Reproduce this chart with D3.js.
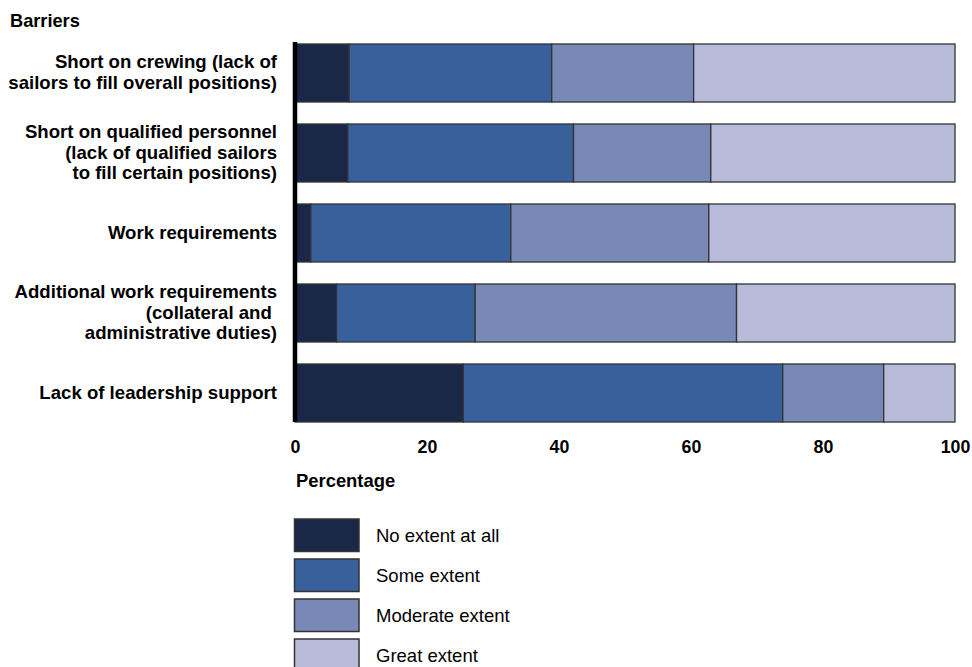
<!DOCTYPE html>
<html>
<head>
<meta charset="utf-8">
<script src="https://cdn.jsdelivr.net/npm/d3@7"></script>
<style>
  html, body { margin: 0; padding: 0; background: #fff; }
  svg { display: block; font-family: "Liberation Sans", Arial, sans-serif; }
</style>
</head>
<body>
<svg id="chart" width="972" height="667"></svg>
<script>
const categories = [
  ["Short on crewing (lack of", "sailors to fill overall positions)"],
  ["Short on qualified personnel", "(lack of qualified sailors", "to fill certain positions)"],
  ["Work requirements"],
  ["Additional work requirements", "(collateral and ", "administrative duties)"],
  ["Lack of leadership support"]
];
const seriesNames = ["No extent at all", "Some extent", "Moderate extent", "Great extent"];
const noExtent = [8.2, 8.0, 2.4, 6.3, 25.5];
const someExtent = [30.7, 34.2, 30.3, 21.0, 48.4];
const moderateExtent = [21.5, 20.8, 30.0, 39.6, 15.3];
const greatExtent = [39.6, 37.0, 37.3, 33.1, 10.8];
const tickValues = [0, 20, 40, 60, 80, 100];
const colors = ["#1a2747", "#38619c", "#7889b8", "#b8bbda"];

const seriesValues = [noExtent, someExtent, moderateExtent, greatExtent];
const rows = categories.map((c, i) => {
  const o = { key: i };
  seriesNames.forEach((s, j) => { o[s] = seriesValues[j][i]; });
  return o;
});

const svg = d3.select("#chart");
const x = d3.scaleLinear().domain([0, 100]).range([295, 955]);
const y = d3.scaleBand().domain(d3.range(categories.length)).range([33, 433])
  .paddingInner(0.275).paddingOuter(0.1375);
const color = d3.scaleOrdinal().domain(seriesNames).range(colors);

const stack = d3.stack().keys(seriesNames)(rows);

svg.append("g").selectAll("g").data(stack).join("g")
  .attr("fill", d => color(d.key))
  .selectAll("rect").data(d => d).join("rect")
  .attr("x", d => x(d[0]))
  .attr("y", (d, i) => y(i))
  .attr("width", d => x(d[1]) - x(d[0]))
  .attr("height", y.bandwidth())
  .attr("stroke", "#333")
  .attr("stroke-width", 1.3);

// vertical axis line
svg.append("line")
  .attr("x1", x(0)).attr("x2", x(0))
  .attr("y1", y(0) - 2).attr("y2", y(categories.length - 1) + y.bandwidth())
  .attr("stroke", "#000").attr("stroke-width", 4.5);

// category labels
const lineH = 20.8;
const lab = svg.append("g").attr("font-weight", "bold").attr("font-size", 18.6)
  .attr("text-anchor", "end").attr("fill", "#000");
categories.forEach((lines, i) => {
  const cy = y(i) + y.bandwidth() / 2 - 1;
  const t = lab.append("text").attr("x", 277).style("white-space", "pre");
  lines.forEach((ln, k) => {
    t.append("tspan").attr("x", 277)
      .attr("y", cy + (k - (lines.length - 1) / 2) * lineH)
      .attr("dy", "0.35em").text(ln);
  });
});

svg.append("text").attr("x", 10).attr("y", 27).attr("font-weight", "bold")
  .attr("font-size", 18.2).attr("fill", "#000").text("Barriers");

// x axis ticks
const xAxis = d3.axisBottom(x).tickValues(tickValues).tickSize(0).tickPadding(0);
const gx = svg.append("g").attr("transform", "translate(0,440)").call(xAxis);
gx.select(".domain").remove();
gx.selectAll("text").attr("font-size", 17.8).attr("font-weight", "bold")
  .attr("font-family", "Liberation Sans, Arial, sans-serif").attr("fill", "#000")
  .attr("dy", "0.72em");

svg.append("text").attr("x", 296).attr("y", 487).attr("font-weight", "bold")
  .attr("font-size", 18.4).attr("fill", "#000").text("Percentage");

// legend
const leg = svg.append("g");
seriesNames.forEach((s, i) => {
  const ly = 519 + i * 40;
  leg.append("rect").attr("x", 294.5).attr("y", ly).attr("width", 64.5).attr("height", 32.5)
    .attr("fill", color(s)).attr("stroke", "#333").attr("stroke-width", 1.5);
  leg.append("text").attr("x", 376).attr("y", ly + 16.5).attr("dy", "0.35em")
    .attr("font-size", 18.5).attr("fill", "#000").text(s);
});
</script>
</body>
</html>
